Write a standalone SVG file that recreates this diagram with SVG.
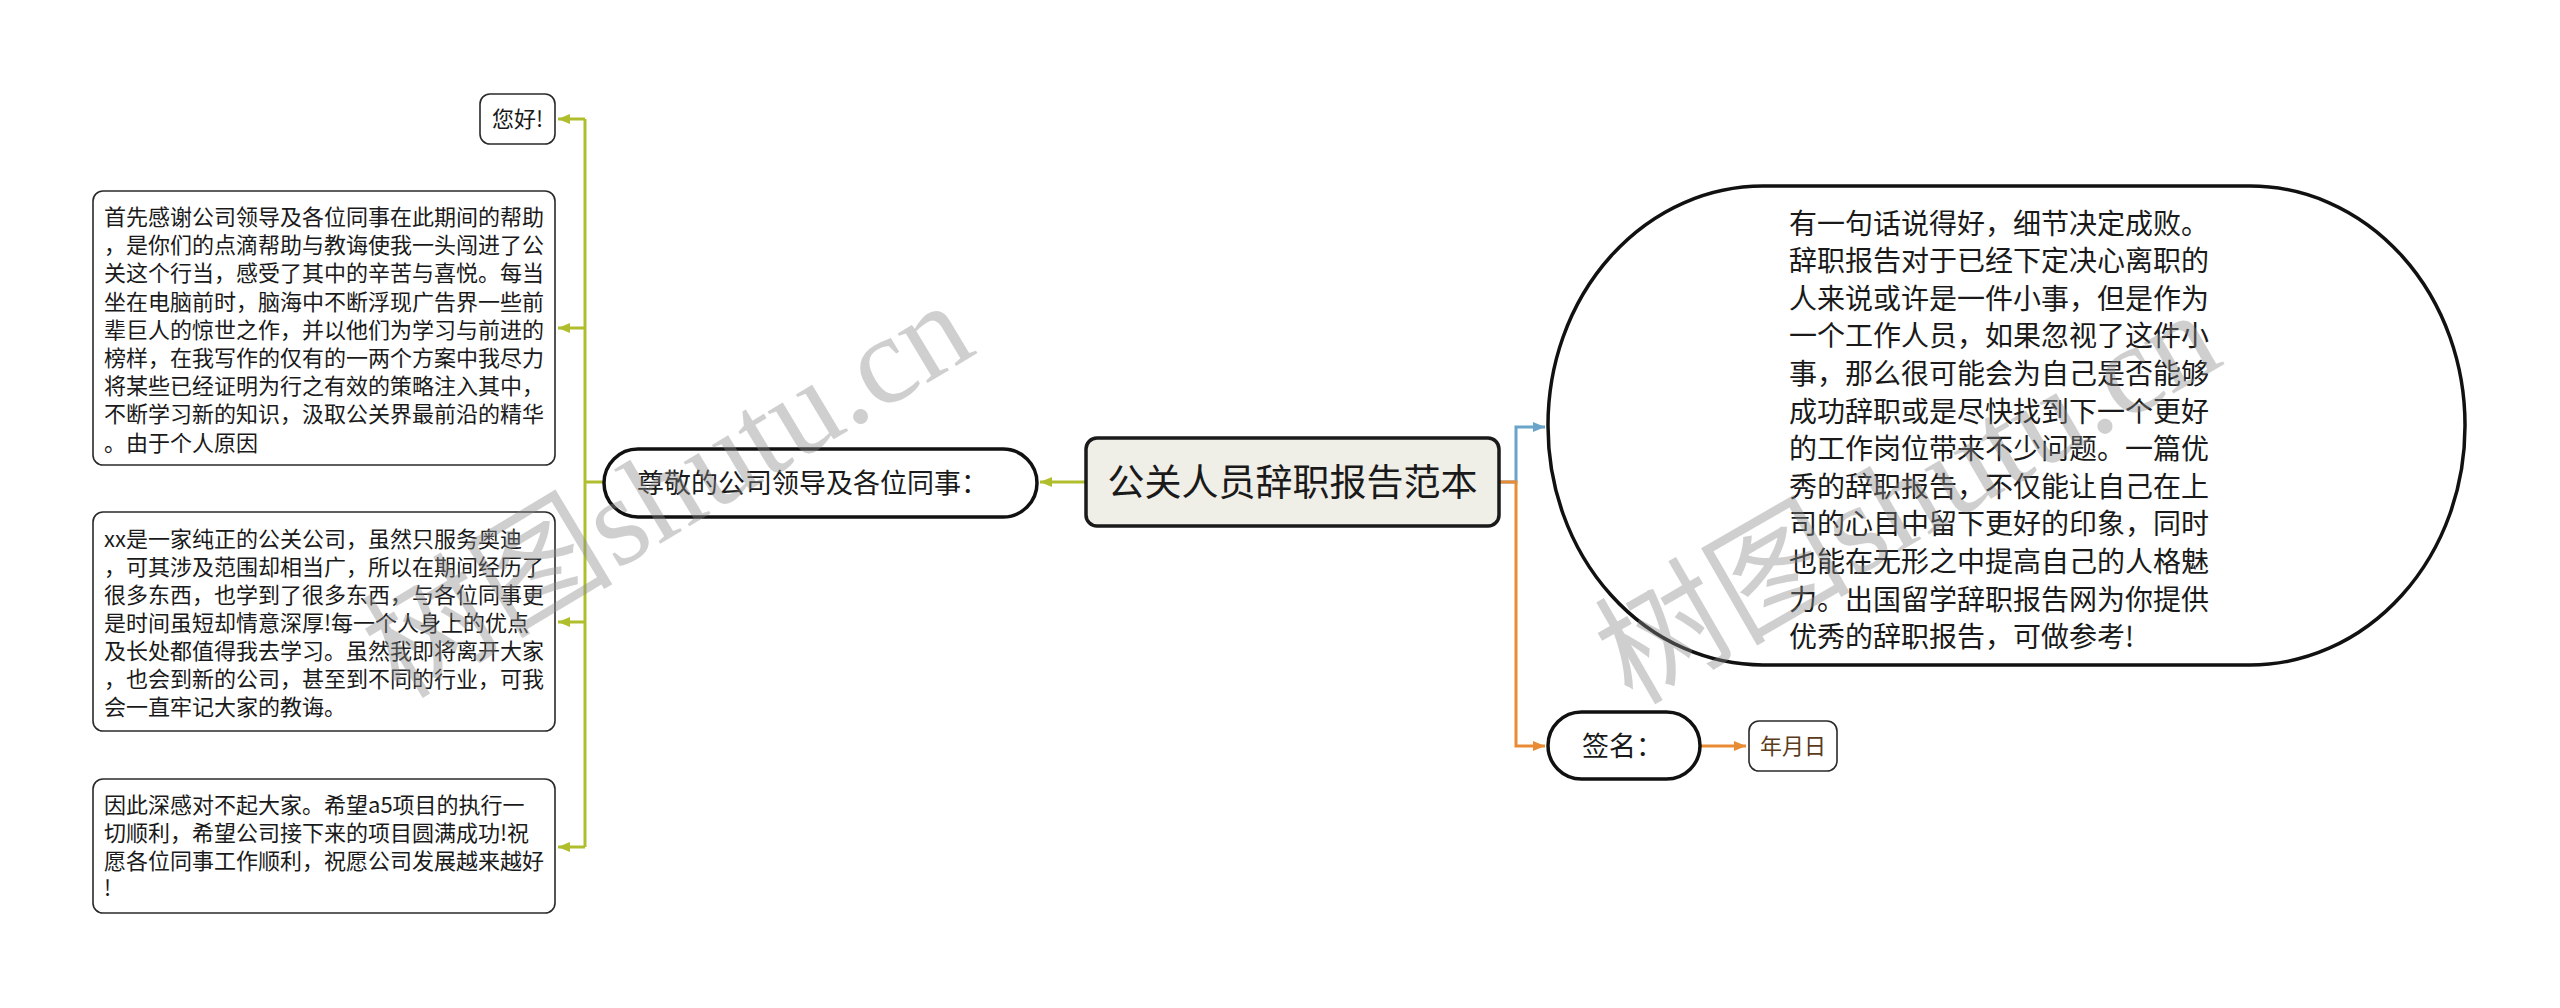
<svg xmlns="http://www.w3.org/2000/svg" width="2560" height="1008" viewBox="0 0 2560 1008">
<style>
.t{font-family:"Noto Sans CJK SC","Noto Sans",sans-serif;fill:#1a1a1a}
.box{fill:#fff;stroke:#2a2a2a;stroke-width:1.6}
.pill{fill:#fff;stroke:#111;stroke-width:3.5}
.c{fill:none;stroke-width:3}
.g{stroke:#b0bd2c}
.b{stroke:#6aa4c8}
.o{stroke:#e88b33}
.wm{font-family:"Liberation Serif","Noto Sans CJK SC",serif;fill:#8a8a8a;opacity:0.4}
</style>
<defs>
<marker id="ag" markerUnits="userSpaceOnUse" markerWidth="12" markerHeight="10" refX="12" refY="5" orient="auto"><path d="M0,0 L12,5 L0,10 z" fill="#b0bd2c"/></marker>
<marker id="ab" markerUnits="userSpaceOnUse" markerWidth="12" markerHeight="10" refX="12" refY="5" orient="auto"><path d="M0,0 L12,5 L0,10 z" fill="#6aa4c8"/></marker>
<marker id="ao" markerUnits="userSpaceOnUse" markerWidth="12" markerHeight="10" refX="12" refY="5" orient="auto"><path d="M0,0 L12,5 L0,10 z" fill="#e88b33"/></marker>
</defs>
<rect width="2560" height="1008" fill="#fff"/>
<g id="connectors">
<path class="c g" d="M1086,482 H1040" marker-end="url(#ag)"/>
<path class="c g" d="M604,482 H585"/>
<path class="c g" d="M585,119 V847"/>
<path class="c g" d="M585,119 H558" marker-end="url(#ag)"/>
<path class="c g" d="M585,328 H558" marker-end="url(#ag)"/>
<path class="c g" d="M585,622 H558" marker-end="url(#ag)"/>
<path class="c g" d="M585,847 H558" marker-end="url(#ag)"/>
<path class="c b" d="M1499,482 H1516 V427 H1545" marker-end="url(#ab)"/>
<path class="c o" d="M1499,482 H1516 V746 H1545" marker-end="url(#ao)"/>
<path class="c o" d="M1700,746 H1746" marker-end="url(#ao)"/>
</g>
<g id="root">
<rect x="1086" y="438" width="413" height="88" rx="11" fill="#efeee7" stroke="#1a1a1a" stroke-width="3.5"/>
<text class="t" x="1292.5" y="496" font-size="37" text-anchor="middle">公关人员辞职报告范本</text>
</g>
<g id="n-zunjing">
<rect class="pill" x="604" y="449" width="433" height="68" rx="34"/>
<text class="t" x="637" y="493" font-size="27">尊敬的公司领导及各位同事：</text>
</g>
<g id="n-ninhao">
<rect class="box" x="480" y="94" width="75" height="50" rx="10"/>
<text class="t" x="517.5" y="127" font-size="22" text-anchor="middle">您好!</text>
</g>
<g id="n-box1">
<rect class="box" x="93" y="191" width="462" height="274" rx="10"/>
<text class="t" font-size="22">
<tspan x="104" y="225">首先感谢公司领导及各位同事在此期间的帮助</tspan>
<tspan x="104" y="253.2">，是你们的点滴帮助与教诲使我一头闯进了公</tspan>
<tspan x="104" y="281.4">关这个行当，感受了其中的辛苦与喜悦。每当</tspan>
<tspan x="104" y="309.6">坐在电脑前时，脑海中不断浮现广告界一些前</tspan>
<tspan x="104" y="337.8">辈巨人的惊世之作，并以他们为学习与前进的</tspan>
<tspan x="104" y="366">榜样，在我写作的仅有的一两个方案中我尽力</tspan>
<tspan x="104" y="394.2">将某些已经证明为行之有效的策略注入其中，</tspan>
<tspan x="104" y="422.4">不断学习新的知识，汲取公关界最前沿的精华</tspan>
<tspan x="104" y="450.6">。由于个人原因</tspan>
</text>
</g>
<g id="n-box2">
<rect class="box" x="93" y="512" width="462" height="219" rx="10"/>
<text class="t" font-size="22">
<tspan x="104" y="547">xx是一家纯正的公关公司，虽然只服务奥迪</tspan>
<tspan x="104" y="575">，可其涉及范围却相当广，所以在期间经历了</tspan>
<tspan x="104" y="603">很多东西，也学到了很多东西，与各位同事更</tspan>
<tspan x="104" y="631">是时间虽短却情意深厚!每一个人身上的优点</tspan>
<tspan x="104" y="659">及长处都值得我去学习。虽然我即将离开大家</tspan>
<tspan x="104" y="687">，也会到新的公司，甚至到不同的行业，可我</tspan>
<tspan x="104" y="715">会一直牢记大家的教诲。</tspan>
</text>
</g>
<g id="n-box3">
<rect class="box" x="93" y="779" width="462" height="134" rx="10"/>
<text class="t" font-size="22">
<tspan x="104" y="813">因此深感对不起大家。希望a5项目的执行一</tspan>
<tspan x="104" y="840.8">切顺利，希望公司接下来的项目圆满成功!祝</tspan>
<tspan x="104" y="868.6">愿各位同事工作顺利，祝愿公司发展越来越好</tspan>
<tspan x="104" y="896.4">!</tspan>
</text>
</g>
<g id="n-right">
<rect class="pill" x="1548" y="186" width="917" height="479" rx="215" ry="239"/>
<text class="t" font-size="28">
<tspan x="1789" y="233.6">有一句话说得好，细节决定成败。</tspan>
<tspan x="1789" y="271.2">辞职报告对于已经下定决心离职的</tspan>
<tspan x="1789" y="308.8">人来说或许是一件小事，但是作为</tspan>
<tspan x="1789" y="346.4">一个工作人员，如果忽视了这件小</tspan>
<tspan x="1789" y="384">事，那么很可能会为自己是否能够</tspan>
<tspan x="1789" y="421.6">成功辞职或是尽快找到下一个更好</tspan>
<tspan x="1789" y="459.2">的工作岗位带来不少问题。一篇优</tspan>
<tspan x="1789" y="496.8">秀的辞职报告，不仅能让自己在上</tspan>
<tspan x="1789" y="534.4">司的心目中留下更好的印象，同时</tspan>
<tspan x="1789" y="572">也能在无形之中提高自己的人格魅</tspan>
<tspan x="1789" y="609.6">力。出国留学辞职报告网为你提供</tspan>
<tspan x="1789" y="647.2">优秀的辞职报告，可做参考!</tspan>
</text>
</g>
<g id="n-qianming">
<rect class="pill" x="1548" y="712" width="152" height="67" rx="33.5"/>
<text class="t" x="1582" y="756" font-size="27">签名：</text>
</g>
<g id="n-date">
<rect class="box" x="1749" y="721" width="88" height="50" rx="10"/>
<text class="t" x="1793" y="754" font-size="22" text-anchor="middle" style="fill:#5a3b1c">年月日</text>
</g>
<g id="watermark">
<text class="wm" font-size="126" transform="translate(400,700) rotate(-31)">树图shutu.cn</text>
<text class="wm" font-size="128" transform="translate(1632,706) rotate(-30)">树图shutu.cn</text>
</g>
</svg>
